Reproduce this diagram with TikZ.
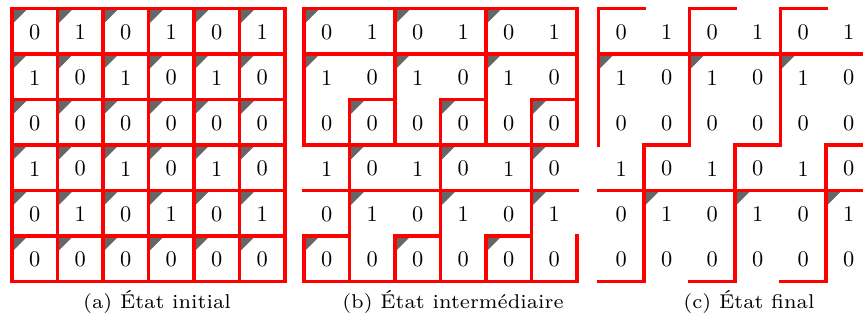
\documentclass[tikz,border=0pt]{standalone}
\usepackage{tikz}
\usepackage{graphicx}
\definecolor{tri}{RGB}{102,102,102}
\definecolor{lred}{RGB}{255,0,0}
\tikzset{
  redline/.style={draw=lred, line width=1.8pt, line cap=rect},
  tricorner/.style={fill=tri},
  digit/.style={inner sep=0pt, font=\fontsize{10.5}{12}\selectfont},
  capt/.style={anchor=base, inner sep=0pt},
  gridscope/.style={x=21.385pt, y=-21.385pt},
}
\newcommand{\capttext}[1]{\scalebox{1.34}{\fontsize{7}{8}\selectfont #1}}
\newcommand{\cellvalues}[1]{%
  \foreach \row [count=\r from 0] in {{0,1,0,1,0,1},{1,0,1,0,1,0},{0,0,0,0,0,0},{1,0,1,0,1,0},{0,1,0,1,0,1},{0,0,0,0,0,0}} {
    \foreach \v [count=\c from 0] in \row {
      \node[digit] (#1-\r-\c) at (\c+0.5,\r+0.52) {\v};
    }
  }%
}
\newcommand{\corners}[1]{%
  \foreach \r/\c in {#1} {
    \fill[tricorner] (\c,\r) -- ++(0.35,0) -- ++(-0.35,0.35) -- cycle;
  }%
}
\begin{document}
\begin{tikzpicture}[x=0.47pt, y=-0.47pt]
\useasboundingbox (0,0) rectangle (863,320);
\clip (0,0) rectangle (863,320);

% (a) initial
\begin{scope}[shift={(12,8.5)}, gridscope]
  \foreach \r in {0,...,5} { \foreach \c in {0,...,5} {
    \fill[tricorner] (\c,\r) -- ++(0.35,0) -- ++(-0.35,0.35) -- cycle; } }
  \cellvalues{a}
  \foreach \i in {0,...,6} {
    \draw[redline] (\i,0) -- (\i,6);
    \draw[redline] (0,\i) -- (6,\i);
  }
\end{scope}

% (b) intermediate
\begin{scope}[shift={(304,8.5)}, gridscope]
  \corners{0/0,0/2,0/4,1/0,1/2,1/4,2/1,2/3,2/5,3/1,3/3,3/5,4/1,4/3,4/5,5/0,5/2,5/4}
  \cellvalues{b}
  \foreach \y/\a/\b in {0/0/6,1/0/6,2/1/2,2/3/4,2/5/6,3/0/6,4/0/6,5/0/1,5/2/3,5/4/5,6/0/6}
    \draw[redline] (\a,\y) -- (\b,\y);
  \foreach \x/\a/\b in {0/0/3,0/5/6,1/2/6,2/0/3,2/5/6,3/2/6,4/0/3,4/5/6,5/2/6,6/0/3,6/5/6}
    \draw[redline] (\x,\a) -- (\x,\b);
\end{scope}

% (c) final
\begin{scope}[shift={(598.5,8.5)}, gridscope]
  \corners{1/0,1/2,1/4,4/1,4/3,4/5}
  \cellvalues{c}
  \foreach \y/\a/\b in {0/0/1,0/2/3,0/4/5,1/0/6,3/1/2,3/3/4,3/5/6,4/0/6,6/0/1,6/2/3,6/4/5}
    \draw[redline] (\a,\y) -- (\b,\y);
  \foreach \x/\a/\b in {0/0/3,1/3/6,2/0/3,3/3/6,4/0/3,5/3/6,6/0/3}
    \draw[redline] (\x,\a) -- (\x,\b);
\end{scope}

\node[capt] (capa) at (157,308) {\capttext{(a) État initial}};
\node[capt] (capb) at (453,308) {\capttext{(b) État intermédiaire}};
\node[capt] (capc) at (749,308) {\capttext{(c) État final}};
\end{tikzpicture}
\end{document}
